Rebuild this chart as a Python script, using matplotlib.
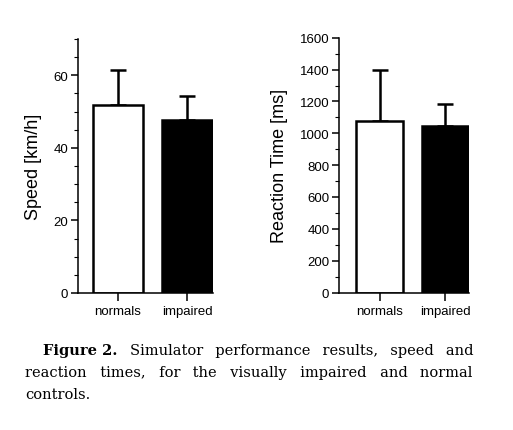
import numpy as np
import matplotlib.pyplot as plt
from matplotlib.font_manager import FontProperties

groups = ['normals', 'impaired']
speed_mean = [51.7, 47.8]
speed_sd = [9.8, 6.4]
rt_mean = [1076, 1045]
rt_sd = [319, 140]
bar_colors = ['white', 'black']

caption_bold = 'Figure 2.'
caption_lines = [
    ['Simulator', 'performance', 'results,', 'speed', 'and'],
    ['reaction', 'times,', 'for', 'the', 'visually', 'impaired', 'and', 'normal'],
    ['controls.'],
]

plt.rcParams['font.family'] = ['Liberation Sans', 'DejaVu Sans']

fig = plt.figure(figsize=(5.13, 4.31), dpi=100)


def bar_panel(ax, means, sds, ylim, major, minor, ylabel, xlim, label_x):
    x = np.arange(len(groups))
    ax.bar(x, means, width=0.72, color=bar_colors, edgecolor='black',
           linewidth=1.8, zorder=2)
    ax.errorbar(x, means, yerr=[np.zeros(len(sds)), sds], fmt='none',
                ecolor='black', elinewidth=1.8, capsize=5.5, capthick=1.8,
                zorder=1)
    ax.set_ylim(*ylim)
    ax.set_xlim(*xlim)
    ax.set_yticks(np.arange(0, ylim[1] + 1, major))
    ax.set_yticks(np.arange(0, ylim[1] + 1, minor), minor=True)
    ax.set_xticks(x)
    ax.set_xticklabels(groups)
    ax.set_ylabel(ylabel, fontsize=13)
    ax.yaxis.set_label_coords(label_x, 0.5)
    for s in ['top', 'right']:
        ax.spines[s].set_visible(False)
    for s in ['left', 'bottom']:
        ax.spines[s].set_linewidth(1.1)
    ax.tick_params(axis='both', which='major', width=1.1,
                   labelsize=9.5, direction='out')
    ax.tick_params(axis='y', which='major', length=5, pad=2)
    ax.tick_params(axis='x', which='major', length=6, pad=3)
    ax.tick_params(axis='y', which='minor', length=3, width=0.8)


ax1 = fig.add_axes([0.152, 0.318, 0.263, 0.589])
bar_panel(ax1, speed_mean, speed_sd, (0, 70), 20, 5, 'Speed [km/h]',
          (-0.576, 1.367), -0.267)

ax2 = fig.add_axes([0.661, 0.319, 0.253, 0.591])
bar_panel(ax2, rt_mean, rt_sd, (0, 1600), 200, 100, 'Reaction Time [ms]',
          (-0.614, 1.356), -0.39)

# caption, justified by padding the word gaps with hair spaces
renderer = fig.canvas.get_renderer()
W, H = fig.bbox.width, fig.bbox.height
cap_size = 10.5
prop = FontProperties(family='DejaVu Serif', size=cap_size)
bprop = FontProperties(family='DejaVu Serif', size=cap_size, weight='bold')


def text_w(s, p):
    return renderer.get_text_width_height_descent(s, p, ismath=False)[0]


hair = text_w('a\u200aa', prop) - text_w('aa', prop)
left_px, right_px = 25, 473
line_y = [355, 377, 399]

bold_w = text_w(caption_bold, bprop)
fig.text(43 / W, 1 - line_y[0] / H, caption_bold, fontproperties=bprop,
         va='baseline', ha='left')

for i, words in enumerate(caption_lines):
    x0 = 43 + bold_w + text_w(' ', prop) if i == 0 else left_px
    plain = ' '.join(words)
    if i < len(caption_lines) - 1:
        n_gaps = len(words) - 1 + (1 if i == 0 else 0)
        extra = right_px - x0 - text_w(plain, prop)
        if i == 0:
            extra_per = extra / n_gaps
            x0 += extra_per
            n_gaps -= 1
            extra -= extra_per
        per = extra / max(n_gaps, 1)
        s = words[0]
        acc = 0.0
        used = 0
        for w in words[1:]:
            acc += per / hair
            k = int(round(acc)) - used
            used += k
            s += ' ' + '\u200a' * k + w
    else:
        s = plain
    fig.text(x0 / W, 1 - line_y[i] / H, s, fontproperties=prop,
             va='baseline', ha='left')

fig.savefig('out.png', dpi=100)
